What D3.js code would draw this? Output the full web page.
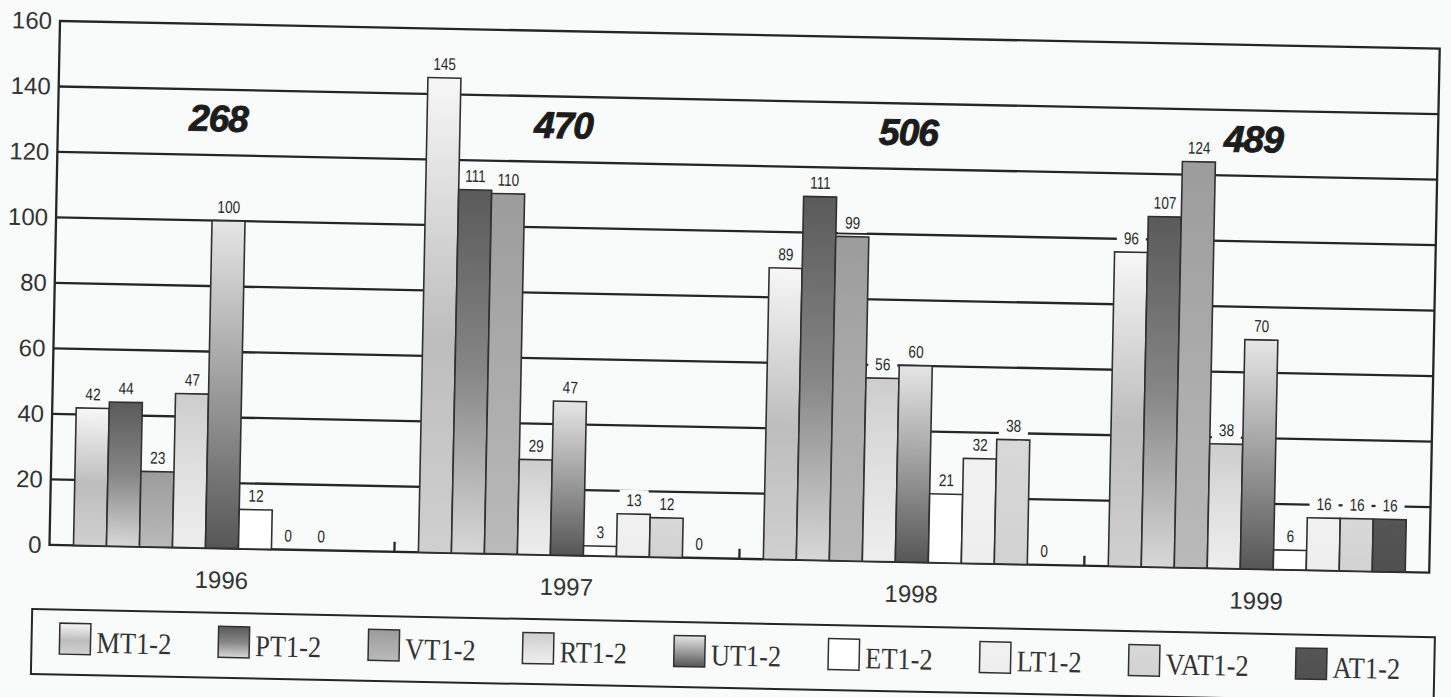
<!DOCTYPE html>
<html>
<head>
<meta charset="utf-8">
<script src="https://cdn.jsdelivr.net/npm/d3@7"></script>
<style>
  html, body { margin: 0; padding: 0; background: #f9fbfb; }
  svg { display: block; }
</style>
</head>
<body>
<script>
// ---- data -------------------------------------------------------------
const years = ["1996", "1997", "1998", "1999"];
const seriesNames = ["MT1-2", "PT1-2", "VT1-2", "RT1-2", "UT1-2", "ET1-2", "LT1-2", "VAT1-2", "AT1-2"];
const mtValues  = [42, 145, 89, 96];
const ptValues  = [44, 111, 111, 107];
const vtValues  = [23, 110, 99, 124];
const rtValues  = [47, 29, 56, 38];
const utValues  = [100, 47, 60, 70];
const etValues  = [12, 3, 21, 6];
const ltValues  = [0, 13, 32, 16];
const vatValues = [0, 12, 38, 16];
const atValues  = [null, 0, 0, 16];
const yTicks = [0, 20, 40, 60, 80, 100, 120, 140, 160];

const seriesValues = [mtValues, ptValues, vtValues, rtValues, utValues,
                      etValues, ltValues, vatValues, atValues];

// ---- styles -----------------------------------------------------------
const fillStops = [
  [[0, "#f7f7f7"], [0.55, "#bdbdbd"], [1, "#d0d0d0"]],   // MT
  [[0, "#5a5a5a"], [0.5, "#868686"], [1, "#d8d8d8"]],    // PT
  [[0, "#9c9c9c"], [1, "#bababa"]],                      // VT
  [[0, "#cdcdcd"], [0.5, "#e0e0e0"], [1, "#eeeeee"]],    // RT
  [[0, "#e6e6e6"], [1, "#565656"]],                      // UT
  [[0, "#ffffff"], [1, "#ffffff"]],                      // ET
  [[0, "#f1f1f1"], [1, "#eeeeee"]],                      // LT
  [[0, "#d8d8d8"], [1, "#d2d2d2"]],                      // VAT
  [[0, "#555555"], [1, "#505050"]]                       // AT
];
const bg = "#f9fbfb";
const ink = "#262626";

const width = 1451, height = 697;
const W = 1380, H = 524;          // plot area
const tilt = 1.15;                // sheet sits slightly rotated

const svg = d3.select("body").append("svg")
  .attr("width", width).attr("height", height);

svg.append("rect").attr("width", width).attr("height", height).attr("fill", bg);

const defs = svg.append("defs");
fillStops.forEach((stops, i) => {
  const lg = defs.append("linearGradient")
    .attr("id", "fill" + i)
    .attr("x1", 0).attr("y1", 0).attr("x2", 0).attr("y2", 1);
  stops.forEach(([o, c]) => lg.append("stop").attr("offset", o).attr("stop-color", c));
});

const g = svg.append("g").attr("transform", `translate(60,21) rotate(${tilt})`);

const x0 = d3.scaleBand().domain(years).range([0, W]);
const x1 = d3.scaleBand().domain(seriesNames).range([24, x0.bandwidth() - 24]);
const y = d3.scaleLinear().domain([0, 160]).range([H, 0]);
const bw = x1.bandwidth();

// gridlines
g.append("g").selectAll("line")
  .data(yTicks.filter(v => v > 0 && v < 160))
  .join("line")
  .attr("x1", 0).attr("x2", W)
  .attr("y1", d => y(d)).attr("y2", d => y(d))
  .attr("stroke", ink).attr("stroke-width", 2.3);

// frame
g.append("rect")
  .attr("x", 0).attr("y", 0).attr("width", W).attr("height", H)
  .attr("fill", "none").attr("stroke", ink).attr("stroke-width", 2.3);

// small separators between year groups
g.append("g").selectAll("line")
  .data(years.slice(1))
  .join("line")
  .attr("x1", d => x0(d)).attr("x2", d => x0(d))
  .attr("y1", H).attr("y2", H - 10)
  .attr("stroke", ink).attr("stroke-width", 2.3);

// flatten into bar records
const bars = [];
years.forEach((yr, i) => {
  seriesNames.forEach((s, j) => {
    const v = seriesValues[j][i];
    if (v === null || v === undefined) return;
    bars.push({ year: yr, series: s, idx: j, value: v });
  });
});

// bars
g.append("g").selectAll("rect")
  .data(bars)
  .join("rect")
  .attr("x", d => x0(d.year) + x1(d.series))
  .attr("y", d => y(d.value))
  .attr("width", bw)
  .attr("height", d => H - y(d.value))
  .attr("fill", d => `url(#fill${d.idx})`)
  .attr("stroke", "#303030")
  .attr("stroke-width", 1.6);

// value labels on a plain backing that interrupts the gridlines
const lab = g.append("g");
lab.selectAll("rect")
  .data(bars)
  .join("rect")
  .attr("x", d => x0(d.year) + x1(d.series) + 2)
  .attr("y", d => y(d.value) - 24)
  .attr("width", bw - 4)
  .attr("height", 20)
  .attr("fill", bg);
lab.selectAll("text")
  .data(bars)
  .join("text")
  .attr("transform", d =>
    `translate(${x0(d.year) + x1(d.series) + bw / 2},${y(d.value) - 8}) scale(0.8,1)`)
  .attr("text-anchor", "middle")
  .attr("font-family", "'Liberation Sans', Arial, sans-serif")
  .attr("font-size", 17)
  .attr("fill", "#2a2a2a")
  .text(d => d.value);

// yearly totals
g.append("g").selectAll("text")
  .data(years)
  .join("text")
  .attr("x", d => x0(d) + x0.bandwidth() / 2 - 12)
  .attr("y", 107)
  .attr("text-anchor", "middle")
  .attr("font-family", "'Liberation Sans', Arial, sans-serif")
  .attr("font-weight", "bold")
  .attr("font-style", "italic")
  .attr("font-size", 37)
  .attr("letter-spacing", -1)
  .attr("fill", "#1c1c1c")
  .attr("stroke", "#1c1c1c")
  .attr("stroke-width", 0.9)
  .text((d, i) => d3.sum(seriesValues, s => s[i] || 0));

// y axis labels
const ya = g.append("g").call(d3.axisLeft(y).tickValues(yTicks).tickSize(0).tickPadding(8));
ya.select(".domain").remove();
ya.selectAll("text")
  .attr("font-family", "'Liberation Sans', Arial, sans-serif")
  .attr("font-size", 24)
  .attr("fill", "#333");

// year labels
const xa = g.append("g").attr("transform", `translate(0,${H})`)
  .call(d3.axisBottom(x0).tickSize(0).tickPadding(23));
xa.select(".domain").remove();
xa.selectAll("text")
  .attr("font-family", "'Liberation Sans', Arial, sans-serif")
  .attr("font-size", 24)
  .attr("fill", "#333");

// legend
const lg = g.append("g");
lg.append("rect")
  .attr("x", -16).attr("y", 588.5).attr("width", 1403).attr("height", 65)
  .attr("fill", "none").attr("stroke", ink).attr("stroke-width", 2);

let lx = 12;
seriesNames.forEach((name, j) => {
  lg.append("rect")
    .attr("x", lx).attr("y", 602).attr("width", 31).attr("height", 31)
    .attr("fill", `url(#fill${j})`)
    .attr("stroke", "#303030").attr("stroke-width", 1.5);
  const tx = lx + 37;
  const t = lg.append("text")
    .attr("transform", `translate(${tx},631) scale(0.88,1)`)
    .attr("font-family", "'Liberation Serif', 'Times New Roman', serif")
    .attr("font-size", 30)
    .attr("fill", "#333")
    .text(name);
  const tw = t.node().getComputedTextLength() * 0.88;
  lx = tx + tw + 47;
});
</script>
</body>
</html>
